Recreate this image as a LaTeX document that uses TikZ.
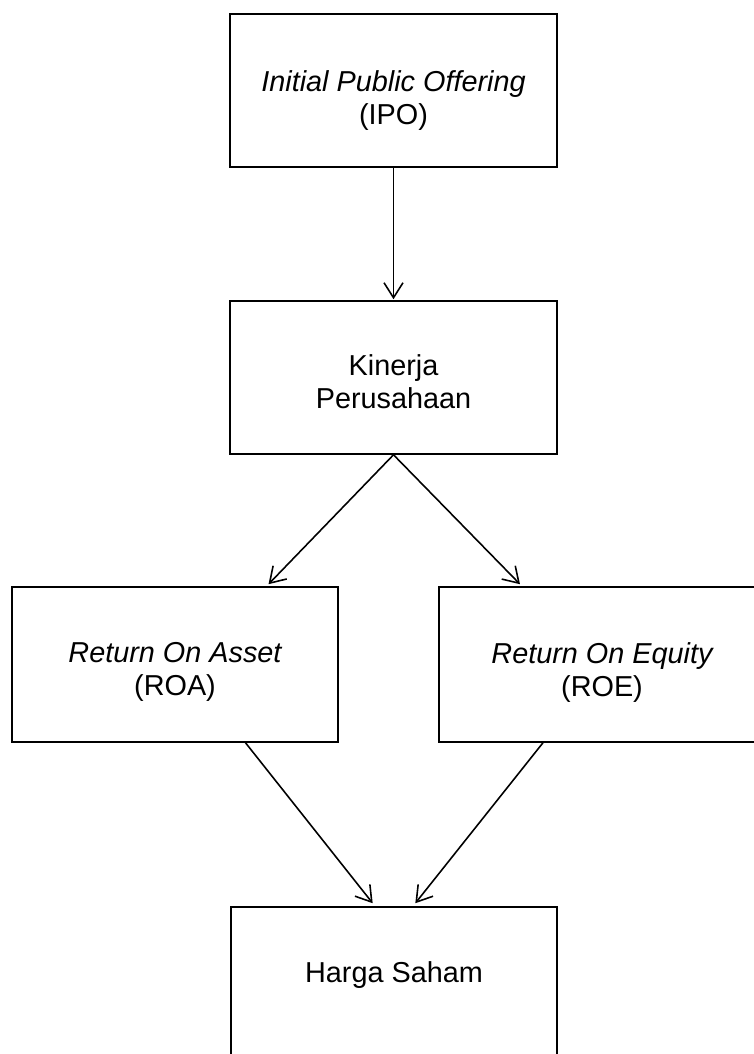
\documentclass[tikz,border=0pt]{standalone}
\usepackage{fontspec}
\setmainfont{Liberation Sans}
\usepackage{tikz}
\usetikzlibrary{calc,arrows.meta,positioning}

\begin{document}
\begin{tikzpicture}[line cap=round,
    kotak/.style={draw,line width=0.9pt,minimum width=6.53cm,minimum height=3.06cm,inner sep=0pt},
    isi/.style={align=center,inner sep=0pt,font=\fontsize{16.4}{18.6}\selectfont},
    panah/.style={line width=0.9pt,-{Straight Barb[length=0.3cm,width=0.38cm,line width=0.9pt]}}]
  \clip (0,0) rectangle (15.08,-21.08);

  % --- boxes ---
  \node[kotak] (ipo) at (7.87,-1.81) {};
  \node[kotak] (kinerja) at (7.87,-7.55) {};
  \node[kotak,minimum height=3.1cm] (roa) at (3.50,-13.29) {};
  \node[kotak,minimum height=3.1cm] (roe) at (12.04,-13.29) {};
  \node[kotak] (harga) at (7.88,-19.67) {};

  % --- texts, hanging from the top edge ---
  \node[isi,below=1.14cm of ipo.north] (ipo-t) {\itshape Initial Public Offering\\(IPO)};
  \node[isi,below=1.08cm of kinerja.north] (kinerja-t) {Kinerja\\Perusahaan};
  \node[isi,below=1.12cm of roa.north] (roa-t) {\itshape Return On Asset\\(ROA)};
  \node[isi,below=1.12cm of roe.north] (roe-t) {\itshape Return On Equity\\(ROE)};
  \node[isi,below=1.1cm of harga.north] (harga-t) {Harga Saham};

  % --- arrows ---
  \draw[panah] (ipo.south) -- ($(kinerja.north)+(0,0.02)$);
  \draw[panah] (kinerja.south) -- ($(roa.north)!0.57!(roa.north east)+(0,0.04)$);
  \draw[panah] (kinerja.south) -- ($(roe.north)!0.5!(roe.north west)+(0,0.04)$);
  \draw[panah] ($(roa.south)!0.43!(roa.south east)$) -- ($(harga.north)!0.13!(harga.north west)+(0,0.06)$);
  \draw[panah] ($(roe.south)!0.36!(roe.south west)$) -- ($(harga.north)!0.13!(harga.north east)+(0,0.06)$);
\end{tikzpicture}
\end{document}
